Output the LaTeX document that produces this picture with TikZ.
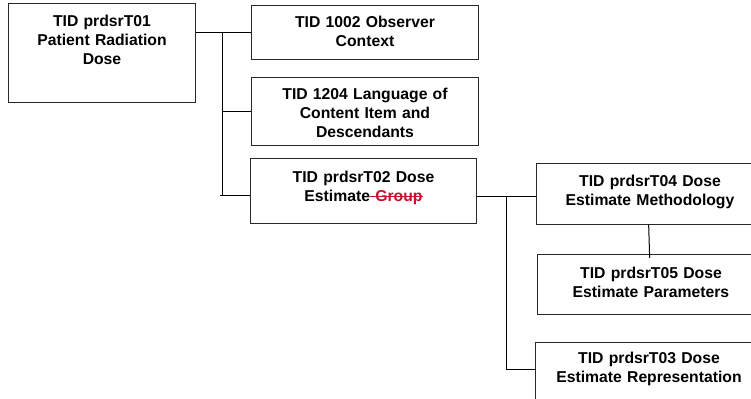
\documentclass[tikz,border=0pt]{standalone}
\usepackage{fontspec}
\setmainfont{Liberation Sans}
\definecolor{strikered}{RGB}{196,18,48}
\newsavebox\strikebox
\newcommand{\redstrike}[1]{\sbox\strikebox{#1}\rlap{\rule[0.3em]{\wd\strikebox}{0.7pt}}\usebox\strikebox}

\tikzset{every picture/.style={line width=0.75pt}}
\tikzset{tidbox/.style={draw={rgb, 255:red, 40; green, 40; blue, 40}, rectangle, anchor=north west, inner xsep=0pt, inner ysep=0pt, align=center, text width=160pt, font=\fontsize{11.8}{14.25}\selectfont\bfseries}}

\begin{document}
\begin{tikzpicture}[x=0.75pt,y=0.75pt,yscale=-1,xscale=1]
\useasboundingbox (0,0) rectangle (751,399);
\clip (0,0) rectangle (751,399);

%Shape: Rectangle [id:t01]
\node [tidbox, text width=130pt, minimum width=140.25pt, text height=17pt, text depth=57.25pt] (t01) at (8,3) {TID prdsrT01\\Patient Radiation\\Dose};
%Shape: Rectangle [id:t1002]
\node [tidbox, minimum width=170.25pt, text height=16.25pt, text depth=24.25pt] (t1002) at (251,5) {TID 1002 Observer\\Context};
%Shape: Rectangle [id:t1204]
\node [tidbox, minimum width=170.25pt, text height=16.25pt, text depth=34.75pt] (t1204) at (251,77) {TID 1204 Language of\\Content Item and\\Descendants};
%Shape: Rectangle [id:t02]
\node [tidbox, minimum width=169.5pt, text height=17.75pt, text depth=31pt] (t02) at (250,158) {TID prdsrT02 Dose\\Estimate\textcolor{strikered}{\redstrike{\ Group}}};
%Shape: Rectangle [id:t04]
\node [tidbox, minimum width=170.25pt, text height=17pt, text depth=28.75pt] (t04) at (536,163) {TID prdsrT04 Dose\\Estimate Methodology};
%Shape: Rectangle [id:t05]
\node [tidbox, minimum width=170.25pt, text height=17.75pt, text depth=27.25pt] (t05) at (537,254) {TID prdsrT05 Dose\\Estimate Parameters};
%Shape: Rectangle [id:t03]
\node [tidbox, minimum width=170.25pt, text height=15.5pt, text depth=35.5pt] (t03) at (535,342) {TID prdsrT03 Dose\\Estimate Representation};

%Straight Lines [id:busA]
\coordinate (busA) at (222,33);
\coordinate (busAend) at (220,196);
\draw (t01.east |- t1002.west) -- (t1002.west);
\draw (busA) |- (t1204.west);
\draw (busA) -- (busA |- busAend);
\draw (busAend) -- (busAend -| t02.west);

%Straight Lines [id:busB]
\coordinate (busB) at (506,197);
\coordinate (busBend) at (506,370);
\draw (t02.east |- busB) -- (busB -| t04.west);
\draw (busB) |- (busBend -| t03.west);
\draw ([xshift=-1pt]t04.south) -- ([xshift=-1pt,yshift=3pt]t05.north);

\end{tikzpicture}
\end{document}
